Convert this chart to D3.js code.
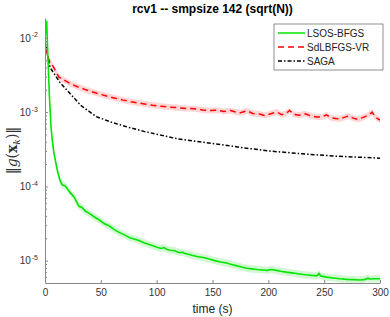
<!DOCTYPE html>
<html>
<head>
<meta charset="utf-8">
<script src="https://cdn.jsdelivr.net/npm/d3@7"></script>
<style>
  body { margin: 0; background: #fff; }
  svg { font-family: "Liberation Sans", Arial, Helvetica, sans-serif; }
</style>
</head>
<body>
<svg id="chart_svg" width="390" height="317"></svg>
<script>
// values
var seriesNames = ["LSOS-BFGS", "SdLBFGS-VR", "SAGA"];

var lsosTime = [0, 1.5, 2.7, 4, 5.4, 6.5, 8, 11, 13.4, 15.5, 18.5, 22.4, 26, 30.4, 33, 36.4, 40, 43.9, 48.4, 52.8,
  57.3, 61.8, 66.3, 70.7, 76, 82.7, 88.7, 94.7, 100.3, 104, 106.6, 109, 112, 116.4, 118, 120.9, 123, 125, 131.6, 136,
  141.8, 147, 152, 157, 162.7, 167, 172, 176, 180.6, 185, 190, 195, 198.5, 203, 206, 211, 216, 222.4, 228, 233,
  238, 243.3, 245.4, 247, 252, 258, 264, 270, 276, 282, 286, 289, 291, 295, 300];
var lsosGrad = [1.0e-2, 1.7e-2, 5.0e-3, 1.58e-3, 6.3e-4, 4.2e-4, 2.8e-4, 1.66e-4, 1.2e-4, 1.05e-4, 1.0e-4, 8.3e-5, 7.2e-5, 5.4e-5, 5.2e-5, 4.6e-5, 4.3e-5, 3.9e-5, 3.55e-5, 3.16e-5,
  2.95e-5, 2.63e-5, 2.4e-5, 2.24e-5, 2.04e-5, 1.9e-5, 1.74e-5, 1.62e-5, 1.51e-5, 1.46e-5, 1.5e-5, 1.42e-5, 1.38e-5, 1.36e-5, 1.32e-5, 1.28e-5, 1.3e-5, 1.26e-5, 1.18e-5, 1.14e-5,
  1.1e-5, 1.05e-5, 1.0e-5, 9.6e-6, 9.3e-6, 8.9e-6, 8.5e-6, 8.2e-6, 7.9e-6, 7.75e-6, 7.6e-6, 7.5e-6, 7.4e-6, 7.6e-6, 7.45e-6, 7.2e-6, 7.0e-6, 6.8e-6, 6.6e-6, 6.45e-6,
  6.35e-6, 6.25e-6, 6.7e-6, 6.2e-6, 6.0e-6, 5.85e-6, 5.7e-6, 5.6e-6, 5.55e-6, 5.5e-6, 5.55e-6, 5.8e-6, 5.65e-6, 5.7e-6, 5.7e-6];

var sdlTime = [0, 3.5, 7, 12.5, 18, 23, 29, 35, 41, 47, 55, 62, 70, 77, 83, 89, 96, 104, 111, 118.5,
  126, 133.5, 141, 148, 155, 160, 166, 171, 175, 181, 186, 192, 197, 203, 208, 212, 216, 219, 223, 228,
  233, 238, 243, 248, 252, 256, 260, 264, 268, 272, 276, 280, 285, 290, 293, 296, 300];
var sdlGrad = [7.6e-3, 5.0e-3, 4.2e-3, 2.95e-3, 2.65e-3, 2.4e-3, 2.2e-3, 2.04e-3, 1.9e-3, 1.78e-3, 1.65e-3, 1.55e-3, 1.45e-3, 1.38e-3, 1.33e-3, 1.29e-3, 1.24e-3, 1.2e-3, 1.17e-3, 1.15e-3,
  1.12e-3, 1.11e-3, 1.07e-3, 1.05e-3, 1.06e-3, 1.02e-3, 1.05e-3, 1.0e-3, 9.8e-4, 1.04e-3, 9.6e-4, 9.4e-4, 9.0e-4, 9.6e-4, 1.0e-3, 9.2e-4, 9.6e-4, 1.05e-3, 9.3e-4, 9.1e-4,
  9.5e-4, 8.9e-4, 8.6e-4, 8.6e-4, 9.2e-4, 8.4e-4, 8.2e-4, 8.1e-4, 8.5e-4, 8.9e-4, 8.3e-4, 8.0e-4, 8.5e-4, 9.2e-4, 1.0e-3, 8.5e-4, 7.8e-4];

var sagaTime = [0, 4.5, 13.4, 22.4, 32, 46, 58.5, 73.7, 88.7, 103.6, 118.5, 133.4, 148.4, 163.2, 178.2, 200, 230, 260, 300];
var sagaGrad = [9.1e-3, 4.0e-3, 2.5e-3, 1.78e-3, 1.23e-3, 8.7e-4, 7.4e-4, 6.3e-4, 5.5e-4, 4.9e-4, 4.37e-4, 4.07e-4, 3.8e-4, 3.55e-4, 3.3e-4, 3.0e-4, 2.75e-4, 2.55e-4, 2.4e-4];

var xTicks = [0, 50, 100, 150, 200, 250, 300];
var yTicks = [1e-5, 1e-4, 1e-3, 1e-2];
var yExponents = ["-5", "-4", "-3", "-2"];

var PADDING = { TOP: 18, RIGHT: 10, BOTTOM: 34, LEFT: 45 };

function drawChart() {
  var svg = d3.select("#chart_svg");
  var svgwidth = +svg.attr("width");
  var svgheight = +svg.attr("height");

  var timeScale = d3.scaleLinear().domain([0, 300]).range([PADDING.LEFT, svgwidth - PADDING.RIGHT]);
  var gradScale = d3.scaleLog().domain([5e-6, 0.0185]).range([svgheight - PADDING.BOTTOM, PADDING.TOP]);

  svg.append("defs").append("clipPath").attr("id", "plotclip")
    .append("rect")
    .attr("x", PADDING.LEFT).attr("y", PADDING.TOP)
    .attr("width", svgwidth - PADDING.LEFT - PADDING.RIGHT)
    .attr("height", svgheight - PADDING.TOP - PADDING.BOTTOM);

  function zipSeries(ts, vs) {
    return ts.map(function (t, i) { return { t: t, v: vs[i] }; });
  }
  var lsos = zipSeries(lsosTime, lsosGrad);
  var sdl = zipSeries(sdlTime, sdlGrad);
  var saga = zipSeries(sagaTime, sagaGrad);

  var line = d3.line()
    .x(function (d) { return timeScale(d.t); })
    .y(function (d) { return gradScale(d.v); });

  // shaded spread around the noisy methods
  function band(spread) {
    return d3.area()
      .x(function (d) { return timeScale(d.t); })
      .y0(function (d) { return gradScale(d.v / spread); })
      .y1(function (d) { return gradScale(d.v * spread); });
  }

  var plot = svg.append("g").attr("clip-path", "url(#plotclip)");

  plot.append("path").datum(sdl).attr("d", band(1.1)).attr("fill", "#ffd6d6");
  plot.append("path").datum(lsos).attr("d", band(1.12)).attr("fill", "#d2f7d2");

  plot.append("path").datum(saga).attr("d", line)
    .attr("fill", "none").attr("stroke", "#000").attr("stroke-width", 1.5)
    .attr("stroke-dasharray", "4,2,1.5,2");
  plot.append("path").datum(sdl).attr("d", line)
    .attr("fill", "none").attr("stroke", "#ff0000").attr("stroke-width", 1.5)
    .attr("stroke-dasharray", "6,4");
  plot.append("path").datum(lsos).attr("d", line)
    .attr("fill", "none").attr("stroke", "#00e600").attr("stroke-width", 1.6);

  // axes, ticks inside like matlab
  var minorTicks = [];
  [1e-6, 1e-5, 1e-4, 1e-3, 1e-2].forEach(function (dec) {
    for (var k = 2; k <= 9; k++) {
      var v = dec * k;
      if (v >= 5e-6 && v <= 0.0185) minorTicks.push(v);
    }
  });

  var xAxis = svg.append("g")
    .attr("transform", "translate(0," + (svgheight - PADDING.BOTTOM) + ")")
    .call(d3.axisBottom(timeScale).tickValues(xTicks).tickSize(-3).tickPadding(6).tickSizeOuter(0).tickFormat(d3.format("d")));
  xAxis.select(".domain").attr("stroke", "#888");
  xAxis.selectAll(".tick line").attr("stroke", "#888");
  xAxis.selectAll(".tick text").attr("font-size", 10).attr("fill", "#333").attr("font-family", null);

  var yMinor = svg.append("g")
    .attr("transform", "translate(" + PADDING.LEFT + ",0)")
    .call(d3.axisLeft(gradScale).tickValues(minorTicks).tickSize(-2).tickSizeOuter(0).tickFormat(""));
  yMinor.select(".domain").remove();
  yMinor.selectAll(".tick line").attr("stroke", "#888");

  var yAxis = svg.append("g")
    .attr("transform", "translate(" + PADDING.LEFT + ",0)")
    .call(d3.axisLeft(gradScale).tickValues(yTicks).tickSize(-3).tickPadding(7).tickSizeOuter(0).tickFormat(""));
  yAxis.select(".domain").attr("stroke", "#888");
  yAxis.selectAll(".tick line").attr("stroke", "#888");
  yAxis.selectAll(".tick text").each(function (d, i) {
    var t = d3.select(this).attr("font-size", 10).attr("fill", "#333").attr("font-family", null);
    t.append("tspan").text("10");
    t.append("tspan").attr("font-size", 7).attr("dx", 1).attr("dy", "-0.6em").text(yExponents[i]);
  });

  // title and labels
  svg.append("text")
    .attr("x", (timeScale(0) + timeScale(300)) / 2).attr("y", 13)
    .attr("text-anchor", "middle").attr("font-size", 12).attr("font-weight", "bold").attr("fill", "#000")
    .text("rcv1 -- smpsize 142 (sqrt(N))");

  svg.append("text")
    .attr("x", (timeScale(0) + timeScale(300)) / 2).attr("y", 313)
    .attr("text-anchor", "middle").attr("font-size", 12).attr("fill", "#222")
    .text("time (s)");

  var yl = svg.append("text")
    .attr("transform", "translate(17," + ((gradScale.range()[0] + gradScale.range()[1]) / 2) + ") rotate(-90)")
    .attr("text-anchor", "middle").attr("font-size", 14).attr("fill", "#333")
    .attr("font-family", "'DejaVu Serif', serif");
  yl.append("tspan").text("\u2016");
  yl.append("tspan").attr("font-style", "italic").text("g");
  yl.append("tspan").text("(");
  yl.append("tspan").attr("font-weight", "bold").text("x");
  yl.append("tspan").attr("font-style", "italic").attr("font-size", 9).attr("dy", 3).text("k");
  yl.append("tspan").attr("dy", -3).text(")\u2016");

  // legend
  var legend = svg.append("g").attr("transform", "translate(274,24)");
  legend.append("rect").attr("width", 109).attr("height", 46)
    .attr("fill", "#fff").attr("stroke", "#444").attr("stroke-width", 0.6);
  var legendStyles = [
    { color: "#00e600", dash: null },
    { color: "#ff0000", dash: "6,4" },
    { color: "#000", dash: "4,2,1.5,2" }
  ];
  seriesNames.forEach(function (name, i) {
    var yy = 9 + i * 14;
    legend.append("line").attr("x1", 4).attr("x2", 31).attr("y1", yy).attr("y2", yy)
      .attr("stroke", legendStyles[i].color).attr("stroke-width", 1.5)
      .attr("stroke-dasharray", legendStyles[i].dash);
    legend.append("text").attr("x", 33).attr("y", yy + 3.5).attr("font-size", 10).attr("fill", "#222").text(name);
  });
}

window.addEventListener("load", drawChart);
</script>
</body>
</html>
